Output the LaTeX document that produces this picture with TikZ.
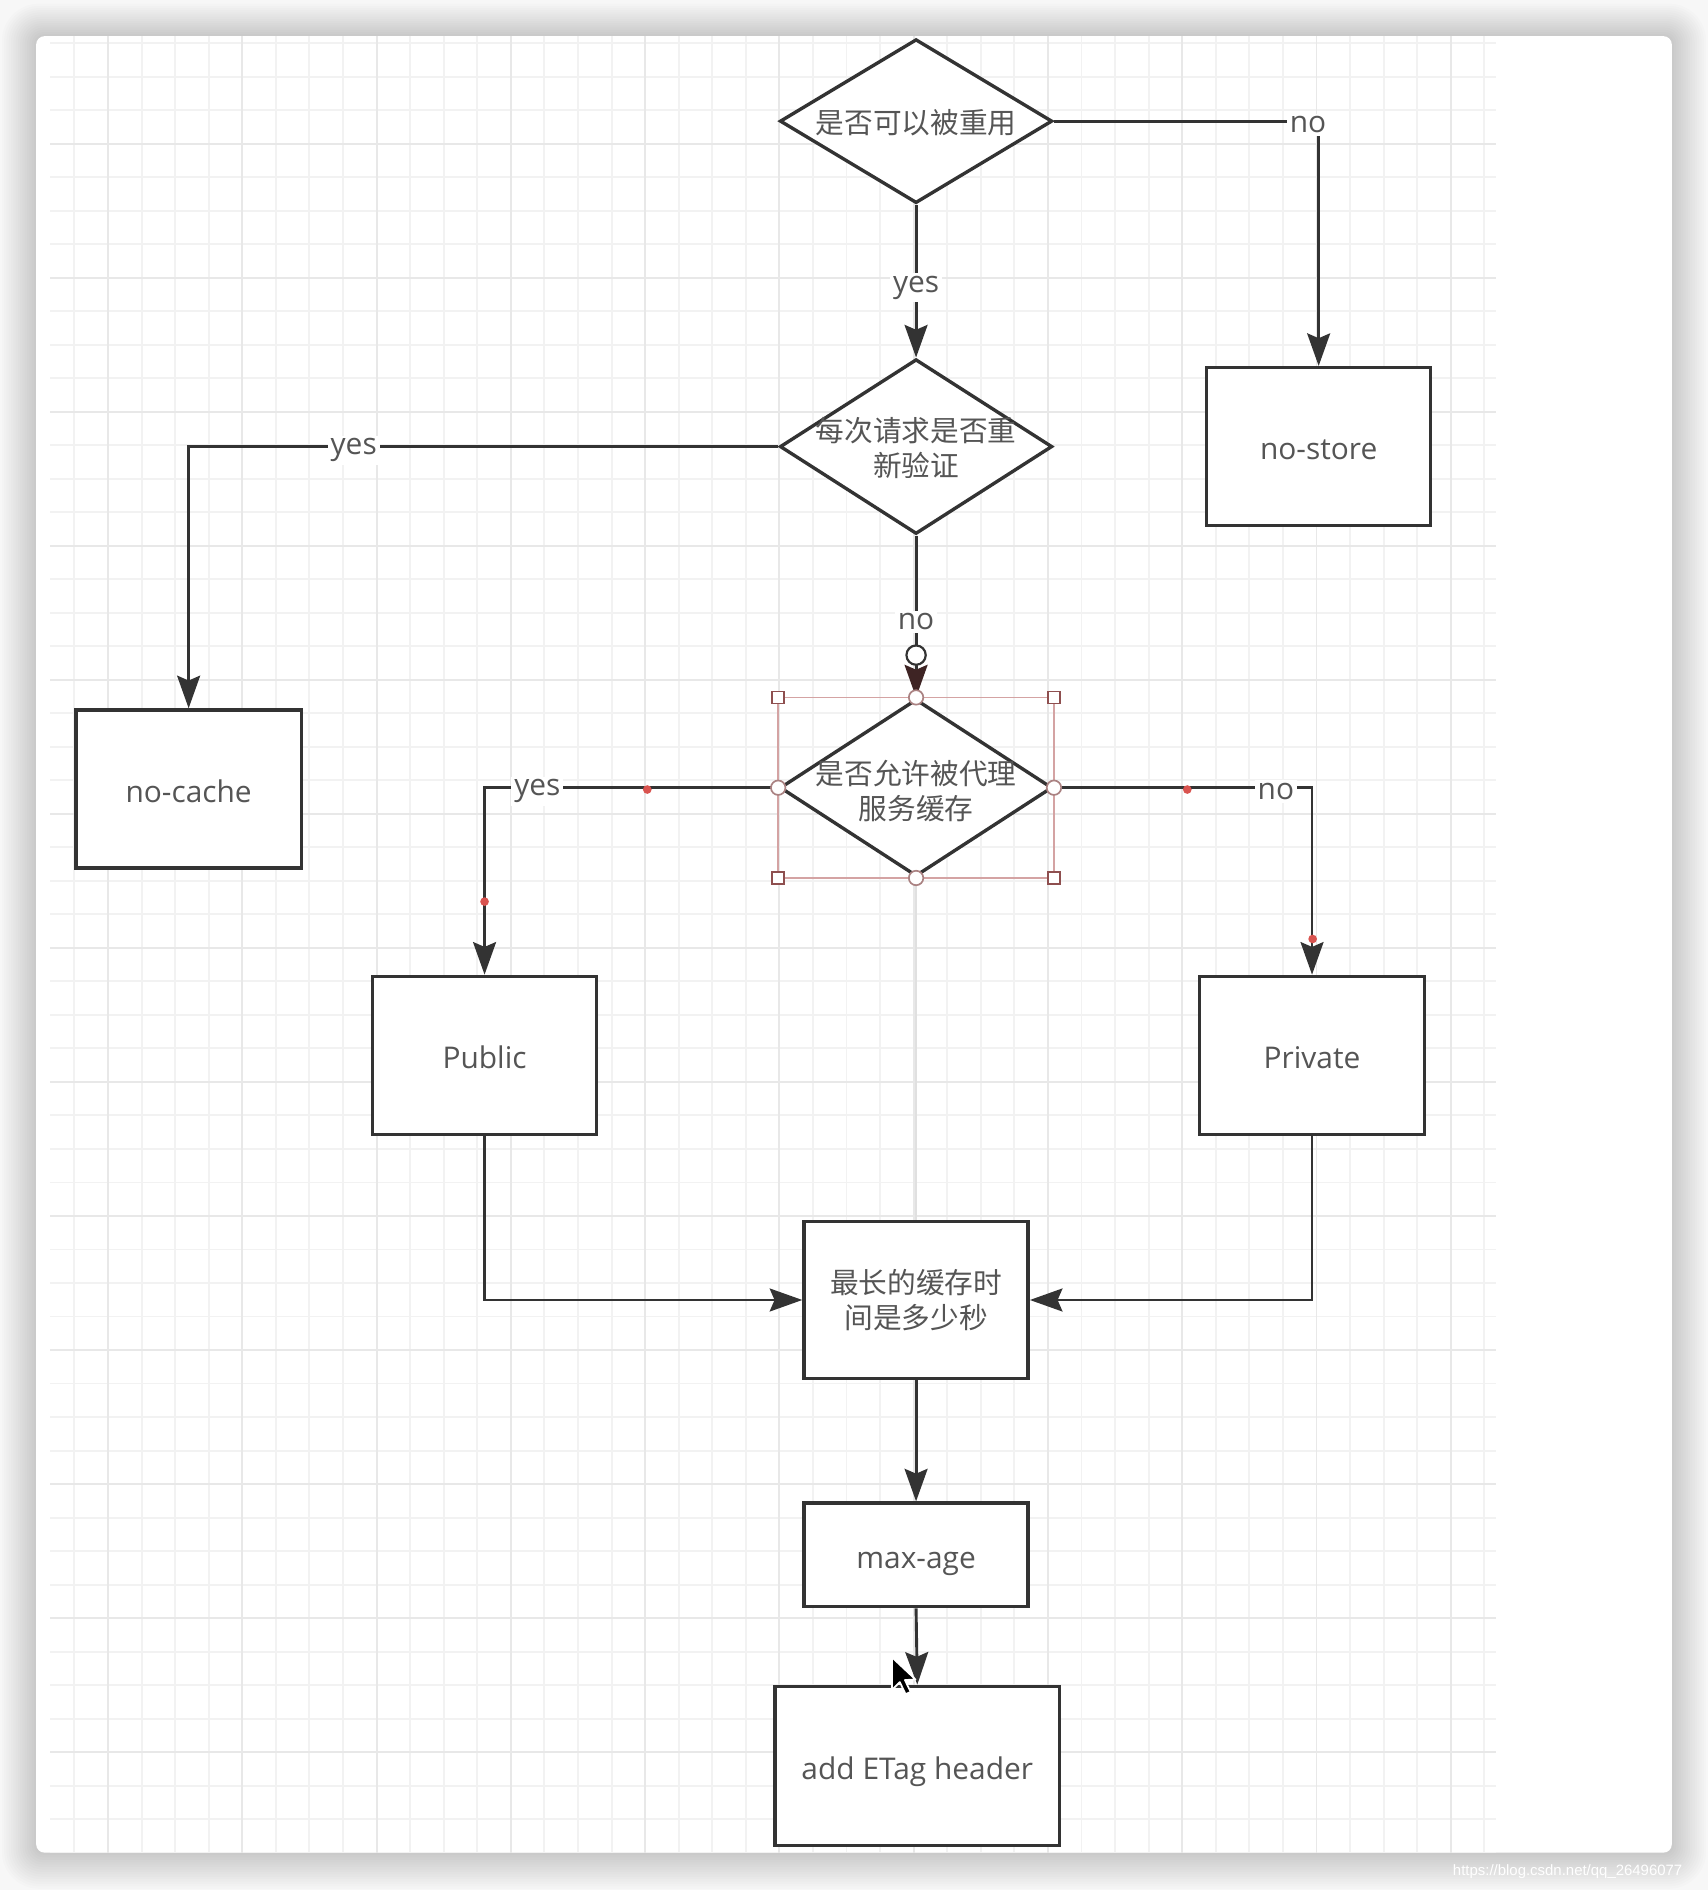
\documentclass[tikz,border=0pt]{standalone}
\usepackage{fontspec}
\setmainfont{Open Sans}
\newfontfamily\cjk{Noto Sans CJK SC}
\newfontfamily\wmfont{Liberation Sans}
\usetikzlibrary{shapes.geometric,arrows.meta,calc}
\definecolor{linec}{HTML}{333333}
\definecolor{txtc}{HTML}{555555}
\definecolor{gridmin}{HTML}{F2F2F2}
\definecolor{gridmaj}{HTML}{E8E8E8}
\definecolor{selc}{HTML}{D4A3A3}
\definecolor{handc}{HTML}{8E4F4F}
\definecolor{dotc}{HTML}{D9534F}
\definecolor{bgc}{HTML}{F7F7F7}
\definecolor{guidec}{HTML}{E0E0E0}
\definecolor{tipred}{HTML}{3E2424}
\tikzset{
  box/.style={draw=linec, line width=1.4pt, fill=white, rectangle, inner sep=0pt,
    text=txtc, font=\fontsize{12.4pt}{14.5pt}\selectfont, align=center},
  ltxt/.style={text height=12pt, text depth=1pt},
  dia/.style={draw=linec, line width=1.4pt, fill=white, diamond, inner sep=0pt},
  ctext/.style={text=txtc, font=\fontsize{11.9pt}{14.5pt}\selectfont, align=center, inner sep=0pt},
  lbl/.style={fill=white, text=txtc, font=\fontsize{12.4pt}{14pt}\selectfont, inner sep=1.2pt, yshift=-1.5pt},
  arr/.style={draw=linec, line width=1.2pt, -{Stealth[length=13.5pt,width=9.5pt,inset=2pt]}},
  guide/.style={draw=guidec, line width=0.6pt},
  sqh/.style={rectangle, draw=handc, fill=white, line width=0.7pt, minimum size=5pt, inner sep=0pt},
  cirh/.style={circle, draw=selc!80!black, fill=white, line width=0.7pt, minimum size=6pt, inner sep=0pt},
}
\begin{document}
\begin{tikzpicture}[x=0.5pt,y=-0.5pt]
\useasboundingbox (0,0) rectangle (1417,1568);
% page background and window shadow
\fill[bgc] (0,0) rectangle (1417,1568);
\foreach \k in {1,...,15} {
  \fill[black, opacity=0.012, rounded corners=3.5pt+\k*0.8pt]
    (30-\k*1.9, 30-\k*1.8) rectangle (1387+\k*1.9, 1537+\k*2.0);
}
\fill[white, rounded corners=3.5pt] (30,30) rectangle (1387,1537);
% grid
\begin{scope}
  \clip (41.5,30) rectangle (1241,1537);
  \foreach \i in {0,...,43} {
    \pgfmathsetmacro\xx{61.75+27.85*\i}
    \draw[gridmin, line width=0.8pt] (\xx,30) -- (\xx,1537);
  }
  \foreach \j in {0,...,55} {
    \pgfmathsetmacro\yy{8+27.8*\j}
    \draw[gridmin, line width=0.8pt] (41.5,\yy) -- (1241,\yy);
  }
  \foreach \i in {0,...,10} {
    \pgfmathsetmacro\xx{89.6+111.4*\i}
    \draw[gridmaj, line width=0.8pt] (\xx,30) -- (\xx,1537);
  }
  \foreach \j in {0,...,13} {
    \pgfmathsetmacro\yy{8+111.2*\j}
    \draw[gridmaj, line width=0.8pt] (41.5,\yy) -- (1241,\yy);
  }
\end{scope}
% decision diamonds
\node[dia, minimum width=113pt, minimum height=68pt] (A) at (760,100.5) {};
\node[ctext] (At) at ($(A.center)+(0,1)$) {\cjk 是否可以被重用};
\node[dia, minimum width=113pt, minimum height=72.5pt] (B) at (760,370.5) {};
\node[ctext] (Bt) at ($(B.center)+(0,1.5)$) {\cjk 每次请求是否重\\\cjk 新验证};
\node[dia, minimum width=113pt, minimum height=73.5pt] (C) at (760,653.5) {};
\node[ctext] (Ct) at ($(C.center)+(0,2.5)$) {\cjk 是否允许被代理\\\cjk 服务缓存};
% boxes
\node[box, ltxt, minimum width=93pt, minimum height=65.5pt] (nostore) at (1094,370.5) {no-store};
\node[box, ltxt, minimum width=93.5pt, minimum height=65.5pt] (nocache) at (156.5,654.5) {no-cache};
\node[box, ltxt, minimum width=93pt, minimum height=65.5pt] (public) at (402,875.5) {Public};
\node[box, ltxt, minimum width=93.5pt, minimum height=65.5pt] (private) at (1088.5,875.5) {Private};
\node[box, minimum width=93pt, minimum height=65pt, font=\cjk\fontsize{11.9pt}{14.5pt}\selectfont] (D) at (760,1078.5) {最长的缓存时\\间是多少秒};
\node[box, ltxt, minimum width=93pt, minimum height=43pt] (maxage) at (760,1290) {max-age};
\node[box, ltxt, minimum width=118pt, minimum height=66pt] (etag) at (761,1465) {add ETag header};
% guide line
\draw[guide] (C.south) -- (D.north);
% connectors
\draw[arr] (A.south) -- node[lbl, pos=0.52] (l1) {yes} (B.north);
\draw[arr] (A.east) -| node[lbl, pos=0.48] (l2) {no} (nostore.north);
\draw[arr] (B.west) -| node[lbl, pos=0.36] (l3) {yes} (nocache.north);
\draw[draw=linec, line width=1.2pt, -{Stealth[length=13.5pt,width=9.5pt,inset=2pt,color=tipred]}] (B.south) -- node[lbl, pos=0.51] (l4) {no} (C.north);
\draw[arr] (C.west) -| node[lbl, pos=0.41] (l5) {yes} (public.north);
\draw[arr] (C.east) -| node[lbl, pos=0.43] (l6) {no} (private.north);
\draw[arr] (public.south) |- (D.west);
\draw[arr] (private.south) |- (D.east);
\draw[arr] (D.south) -- (maxage.north);
\draw[arr] (maxage.south) -- (etag.north);
% selection of diamond C
\draw[selc, line width=0.7pt] (C.west |- C.north) rectangle (C.east |- C.south);
\node[sqh] (h1) at (C.west |- C.north) {};
\node[sqh] (h2) at (C.east |- C.north) {};
\node[sqh] (h3) at (C.west |- C.south) {};
\node[sqh] (h4) at (C.east |- C.south) {};
\node[cirh] (h5) at (C.north) {};
\node[cirh] (h6) at (C.south) {};
\node[cirh] (h7) at (C.west) {};
\node[cirh] (h8) at (C.east) {};
\node[circle, draw=linec, fill=white, line width=0.9pt, minimum size=8pt, inner sep=0pt] (h0) at (760,543.5) {};
% red waypoint markers
\fill[dotc] (537,655) circle[radius=3.6];
\fill[dotc] (402,748) circle[radius=3.6];
\fill[dotc] (985,655) circle[radius=3.6];
\fill[dotc] (1089,779) circle[radius=3.6];
% mouse pointer
\filldraw[fill=black, draw=white, line width=0.7pt, line join=round]
  (740,1375) -- ++(0,27) -- ++(6.5,-6.5) -- ++(4.8,10) -- ++(4.2,-1.9) -- ++(-4.8,-9.8) -- ++(8.8,-0.5) -- cycle;
% watermark
\node[anchor=west, text=white, font=\wmfont\fontsize{6.2pt}{7pt}\selectfont, inner sep=0pt] (wm) at (1205,1553) {https://blog.csdn.net/qq\_26496077};
\end{tikzpicture}
\end{document}
